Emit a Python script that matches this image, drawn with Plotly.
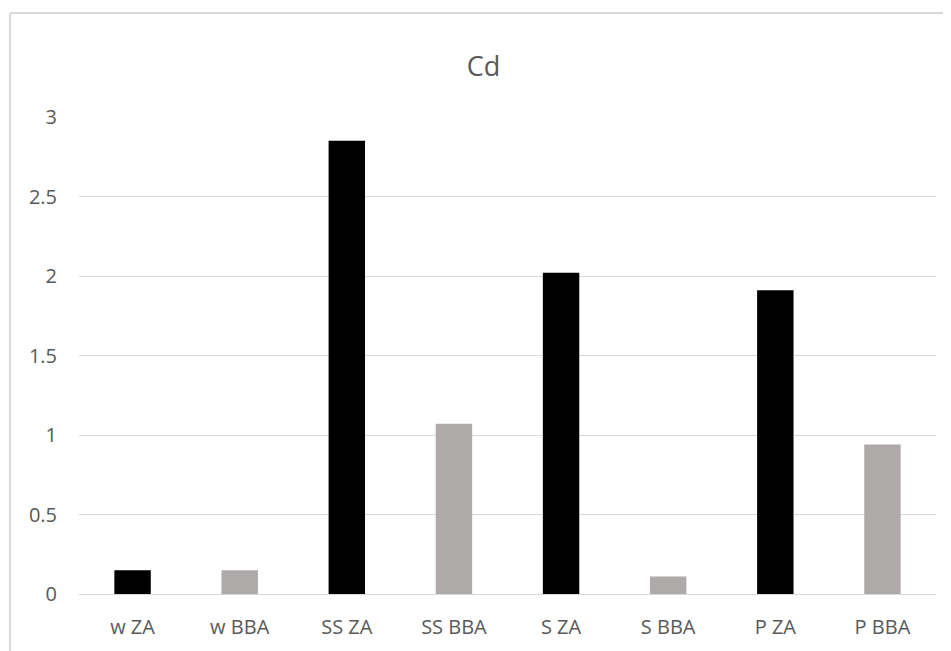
import plotly.graph_objects as go

categories = ["w ZA", "w BBA", "SS ZA", "SS BBA", "S ZA", "S BBA", "P ZA", "P BBA"]
values = [0.15, 0.15, 2.85, 1.07, 2.02, 0.11, 1.91, 0.94]
y_ticks = [0, 0.5, 1, 1.5, 2, 2.5, 3]
y_tick_labels = ["0", "0.5", "1", "1.5", "2", "2.5", "3"]

colors = ["#000000" if c.endswith(" ZA") else "#AEAAAA" for c in categories]

fig = go.Figure(go.Bar(
    x=categories, y=values,
    marker=dict(color=colors, line=dict(width=0)),
    hoverinfo="x+y",
))

font_family = "Open Sans, Lato, sans-serif"
L, R, T, B = 71, 23, 109, 65
W, H = 951, 651
pw, ph = W - L - R, H - T - B
fig.update_layout(
    width=W, height=H,
    margin=dict(l=L, r=R, t=T, b=B),
    paper_bgcolor="white", plot_bgcolor="white",
    bargap=0.66,
    showlegend=False,
    title=dict(text="Cd", x=0.5, xanchor="center", y=1 - 59 / H, yanchor="middle",
               font=dict(family=font_family, size=27, color="#595959")),
    xaxis=dict(showgrid=False, showline=False, ticks="", ticklabelstandoff=19,
               tickfont=dict(family=font_family, size=20, color="#595959")),
    yaxis=dict(range=[0, 3], tickvals=y_ticks, ticktext=y_tick_labels,
               showgrid=True, gridcolor="#D9D9D9", gridwidth=1,
               zeroline=True, zerolinecolor="#D9D9D9", zerolinewidth=1,
               showline=False, ticks="", ticklabelstandoff=21,
               tickfont=dict(family=font_family, size=20, color="#595959")),
    shapes=[
        dict(type="line", xref="paper", yref="paper", x0=(2 - L) / pw, x1=1.2,
             y0=(ph + T - 5) / ph, y1=(ph + T - 5) / ph, line=dict(color="#D9D9D9", width=2)),
        dict(type="line", xref="paper", yref="paper", x0=(2 - L) / pw, x1=(2 - L) / pw,
             y0=(ph + T - 5) / ph, y1=-0.3, line=dict(color="#D9D9D9", width=2)),
    ],
)

fig.write_html("out.html")
